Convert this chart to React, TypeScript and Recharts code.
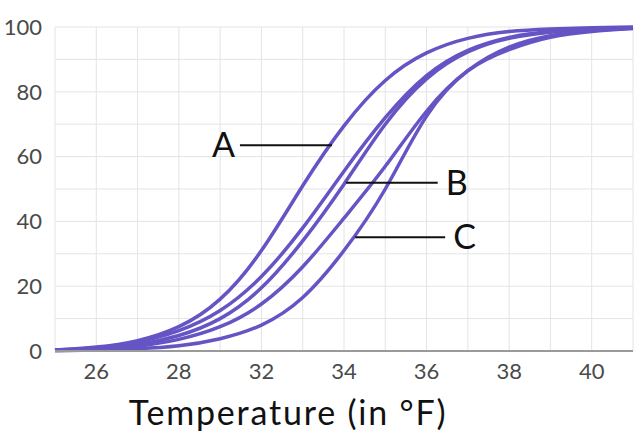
import React from 'react';
import {
  LineChart,
  Line,
  XAxis,
  YAxis,
  CartesianGrid,
  ReferenceLine,
} from 'recharts';

// x positions on the (uniform) grid; the printed tick labels are listed separately
const xIndex = [0, 1, 2, 3, 4, 5, 6, 7, 8, 9, 10, 11, 12, 13, 14];
const xTickLabels = ['', '26', '', '28', '', '32', '', '34', '', '36', '', '38', '', '40', ''];
const yTicks = [0, 10, 20, 30, 40, 50, 60, 70, 80, 90, 100];
const yTickLabels = ['0', '', '20', '', '40', '', '60', '', '80', '', '100'];

const curveA = [0.3, 1.2, 3.2, 7.5, 16, 31, 51, 69.5, 83.5, 92, 96.5, 98.6, 99.4, 99.8, 100];
const curve2 = [0.3, 1.0, 2.8, 6.3, 12.5, 23, 38, 55.5, 72, 85, 92.8, 96.8, 98.6, 99.4, 99.8];
const curve3 = [0.2, 0.7, 2.0, 4.8, 10, 19.5, 34, 51.5, 70, 84, 92.3, 96.5, 98.4, 99.3, 99.8];
const curve4 = [0.2, 0.5, 1.5, 3.6, 7.5, 14.5, 26, 41, 57, 74, 86.5, 93, 96.8, 98.6, 99.5];
const curve5 = [0.1, 0.3, 0.7, 1.6, 3.8, 8, 16.5, 31, 50, 72.5, 86.5, 93.8, 97.3, 98.9, 99.6];

const seriesKeys = ['a', 'b1', 'b2', 'c1', 'c2'];
const seriesValues = [curveA, curve2, curve3, curve4, curve5];

const data = xIndex.map((x, i) => {
  const row: Record<string, number> = { x };
  seriesKeys.forEach((k, s) => {
    row[k] = seriesValues[s][i];
  });
  return row;
});

// annotation callouts: line from x1 to x2 at value y, with a letter
const callouts: { x1: number; x2: number; y: number; text: string; side: 'left' | 'right' }[] = [
  { x1: 4.48, x2: 6.71, y: 63.5, text: 'A', side: 'left' },
  { x1: 7.05, x2: 9.27, y: 51.9, text: 'B', side: 'right' },
  { x1: 7.27, x2: 9.45, y: 35.1, text: 'C', side: 'right' },
];

const FONT = 'Lato, "Noto Sans", sans-serif';
const CURVE = '#6554c4';

export default function App() {
  return (
    <div style={{ position: 'absolute', left: 0, top: 0, width: 640, height: 440, background: '#fff' }}>
      <LineChart
        width={640}
        height={440}
        data={data}
        margin={{ top: 27, right: 7, left: 0, bottom: 0 }}
      >
        <CartesianGrid stroke="#e4e4e4" strokeWidth={1} />
        <XAxis
          dataKey="x"
          type="number"
          domain={[0, 14]}
          ticks={xIndex}
          interval={0}
          tickFormatter={(v: number) => xTickLabels[v] ?? ''}
          height={89}
          tickLine={false}
          tickSize={0}
          tickMargin={12}
          axisLine={{ stroke: '#9a9a9a', strokeWidth: 2 }}
          tick={{ fill: '#4a4a4a', fontSize: 22, fontFamily: FONT }}
          label={{
            value: 'Temperature (in °F)',
            position: 'insideBottom',
            offset: 15,
            dx: -56,
            fill: '#111',
            fontSize: 34,
            letterSpacing: 1.8,
            fontFamily: FONT,
          }}
        />
        <YAxis
          type="number"
          domain={[0, 100]}
          ticks={yTicks}
          interval={0}
          tickFormatter={(v: number) => yTickLabels[yTicks.indexOf(v)] ?? ''}
          width={55}
          axisLine={false}
          tickLine={false}
          tickSize={0}
          tickMargin={13}
          tick={{ fill: '#4a4a4a', fontSize: 22, fontFamily: FONT }}
        />
        {seriesKeys.map((k) => (
          <Line
            key={k}
            dataKey={k}
            type="natural"
            stroke={CURVE}
            strokeWidth={3.5}
            dot={false}
            activeDot={false}
            isAnimationActive={false}
          />
        ))}
        {callouts.map((c) => (
          <ReferenceLine
            key={c.text}
            segment={[
              { x: c.x1, y: c.y },
              { x: c.x2, y: c.y },
            ]}
            stroke="#111"
            strokeWidth={2}
            ifOverflow="visible"
            label={{
              value: c.text,
              position: c.side,
              offset: c.side === 'left' ? 5 : 8,
              fill: '#111',
              fontSize: 34,
              fontFamily: FONT,
            }}
          />
        ))}
      </LineChart>
    </div>
  );
}
